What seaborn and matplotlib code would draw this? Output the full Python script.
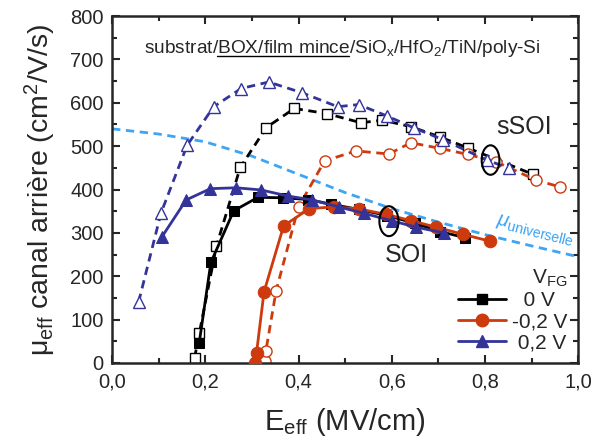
import matplotlib
matplotlib.use("Agg")
import matplotlib.pyplot as plt
import seaborn as sns
from matplotlib.patches import Ellipse
from matplotlib.lines import Line2D

# --- data (E_eff in MV/cm, mobility in cm2/V/s) ---
# SOI, filled markers, solid lines
soi_0v_e = [0.187, 0.212, 0.261, 0.313, 0.366, 0.421, 0.470, 0.530, 0.590, 0.650, 0.704, 0.757]
soi_0v_mu = [47, 232, 351, 382, 381, 377, 366, 354, 340, 322, 303, 289]
soi_m02_e = [0.307, 0.310, 0.326, 0.368, 0.423, 0.476, 0.530, 0.587, 0.642, 0.696, 0.752, 0.810]
soi_m02_mu = [1, 24, 164, 316, 356, 360, 355, 343, 328, 313, 297, 281]
soi_p02_e = [0.107, 0.159, 0.211, 0.266, 0.320, 0.377, 0.429, 0.486, 0.541, 0.600, 0.653, 0.712]
soi_p02_mu = [291, 376, 402, 404, 399, 385, 376, 360, 345, 328, 313, 300]

# sSOI, open markers, dashed lines
ssoi_0v_e = [0.177, 0.187, 0.224, 0.275, 0.331, 0.391, 0.461, 0.534, 0.580, 0.641, 0.704, 0.763, 0.903]
ssoi_0v_mu = [12, 68, 270, 451, 543, 587, 575, 554, 560, 545, 521, 496, 435]
ssoi_m02_e = [0.328, 0.330, 0.352, 0.400, 0.456, 0.523, 0.594, 0.641, 0.703, 0.763, 0.824, 0.909, 0.961]
ssoi_m02_mu = [5, 28, 167, 360, 466, 489, 482, 508, 495, 481, 464, 422, 406]
ssoi_p02_e = [0.057, 0.105, 0.161, 0.218, 0.277, 0.336, 0.408, 0.484, 0.529, 0.589, 0.648, 0.710, 0.804, 0.852]
ssoi_p02_mu = [141, 346, 502, 591, 633, 648, 623, 591, 596, 570, 542, 515, 468, 449]

# universal mobility curve
univ_e = [0.0, 0.1, 0.2, 0.3, 0.4, 0.5, 0.6, 0.7, 0.8, 0.9, 1.0]
univ_mu = [540, 528, 510, 477, 435, 393, 356, 325, 296, 270, 245]

legend_labels = ["  0 V", "-0,2 V", " 0,2 V"]

BLACK = "black"
RED = "#cc3a0e"
BLUE = "#33339a"
LIGHT = "#3da5f4"

sns.set_style("ticks")
plt.rcParams["font.family"] = ["Liberation Sans", "DejaVu Sans"]
plt.rcParams["mathtext.fontset"] = "custom"
plt.rcParams["mathtext.rm"] = "Liberation Sans"
plt.rcParams["mathtext.it"] = "Liberation Sans:italic"
plt.rcParams["mathtext.bf"] = "Liberation Sans:bold"

fig = plt.figure(figsize=(5.93, 4.47), dpi=100)
ax = fig.add_axes([0.189, 0.188, 0.786, 0.776])

# universal curve
sns.lineplot(x=univ_e, y=univ_mu, color=LIGHT, lw=2, linestyle=(0, (3, 2)),
             estimator=None, sort=False, ax=ax, zorder=1)

# sSOI (open markers)
dash = (0, (3, 2))
for e, mu, c, m, ms in [(ssoi_0v_e, ssoi_0v_mu, BLACK, "s", 7),
                        (ssoi_m02_e, ssoi_m02_mu, RED, "o", 8),
                        (ssoi_p02_e, ssoi_p02_mu, BLUE, "^", 9)]:
    sns.lineplot(x=e, y=mu, color=c, lw=2, linestyle=dash, marker=m,
                 markersize=ms, markerfacecolor="white", markeredgecolor=c,
                 markeredgewidth=1, estimator=None, sort=False, ax=ax, zorder=2)

# SOI (filled markers)
handles = []
for e, mu, c, m, ms in [(soi_0v_e, soi_0v_mu, BLACK, "s", 7),
                        (soi_m02_e, soi_m02_mu, RED, "o", 9),
                        (soi_p02_e, soi_p02_mu, BLUE, "^", 9)]:
    sns.lineplot(x=e, y=mu, color=c, lw=2, marker=m, markersize=ms,
                 markerfacecolor=c, markeredgecolor=c, estimator=None,
                 sort=False, ax=ax, zorder=3)
    handles.append(Line2D([], [], color=c, lw=2, marker=m, markersize=ms))

ax.legend(handles=handles, labels=legend_labels, title="V$_{\\mathrm{FG}}$",
          loc="lower right", frameon=False, fontsize=15, title_fontsize=15,
          handlelength=2.3, handletextpad=0.3, labelspacing=0.1,
          borderaxespad=0.1, alignment="right")

# ellipses marking the two families
ax.add_patch(Ellipse((0.812, 468), 0.038, 68, fill=False, lw=1.5, color="black", zorder=4))
ax.add_patch(Ellipse((0.594, 327), 0.041, 69, fill=False, lw=1.5, color="black", zorder=4))

ax.text(0.885, 545, "sSOI", fontsize=18, ha="center", va="center")
ax.text(0.631, 249, "SOI", fontsize=18, ha="center", va="center")
ax.text(0.908, 306, r"$\mu_{\mathrm{universelle}}$", color=LIGHT, fontsize=14.5,
        ha="center", va="center", rotation=-14)

ax.set_xlim(0, 1.0)
ax.set_ylim(0, 800)
ax.set_xticks([0, 0.2, 0.4, 0.6, 0.8, 1.0])
ax.set_xticklabels(["0,0", "0,2", "0,4", "0,6", "0,8", "1,0"])
ax.set_xticks([0.1, 0.3, 0.5, 0.7, 0.9], minor=True)
ax.set_yticks(range(0, 801, 100))
ax.set_yticks(range(50, 800, 100), minor=True)
ax.tick_params(which="both", direction="in", top=True, right=True, width=1.5,
               labelsize=14.5)
ax.tick_params(axis="x", which="major", length=6, pad=7)
ax.tick_params(axis="y", which="major", length=6, pad=6)
ax.tick_params(which="minor", length=3.5)
for s in ax.spines.values():
    s.set_linewidth(1.8)

ax.set_xlabel("E$_{\\mathrm{eff}}$ (MV/cm)", fontsize=21, labelpad=10)
ax.set_ylabel("μ$_{\\mathrm{eff}}$ canal arrière (cm$^{\\mathrm{2}}$/V/s)", fontsize=20.5, labelpad=9)

# stack description, with "BOX/film mince" underlined
pre = "substrat/"
und = "BOX/film mince"
post = r"/SiO$_{\mathrm{x}}$/HfO$_{\mathrm{2}}$/TiN/poly-Si"
title_kw = dict(fontsize=13.8, va="baseline")
t_full = ax.text(0.494, 714, pre + und + post, ha="center", **title_kw)
fig.canvas.draw()
r = fig.canvas.get_renderer()
bb = t_full.get_window_extent(r)
t_pre = ax.text(0, 0, pre, **title_kw)
t_und = ax.text(0, 0, pre + und, **title_kw)
w_pre = t_pre.get_window_extent(r).width
w_und = t_und.get_window_extent(r).width
t_pre.remove()
t_und.remove()
x0 = bb.x0 + w_pre
x1 = bb.x0 + w_und
ybase = ax.transData.transform((0.494, 714))[1] - 3
fig.add_artist(Line2D([x0 / fig.bbox.width, x1 / fig.bbox.width],
                      [ybase / fig.bbox.height] * 2, color="black", lw=1.0))

fig.savefig("out.png", dpi=100)
